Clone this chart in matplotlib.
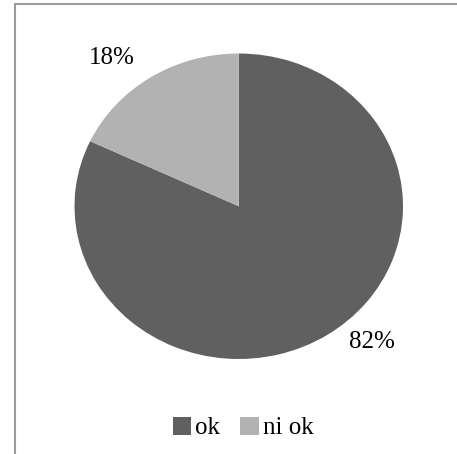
import matplotlib.pyplot as plt
from matplotlib.patches import Rectangle

# data
categories = ['ok', 'ni ok']
values = [82, 18]
colors = ['#606060', '#b2b2b2']

plt.rcParams['font.family'] = ['Liberation Serif', 'DejaVu Serif']

fig = plt.figure(figsize=(4.57, 4.54), dpi=100)

# outer frame (chart area border)
fig.patches.append(Rectangle((14.5 / 457, -0.1), 1.2, 1.1 - 4.5 / 454 + 0.0,
                             transform=fig.transFigure, fill=False,
                             edgecolor='#9a9a9a', linewidth=1.5))

ax = fig.add_axes([74.5 / 457, 1 - 359 / 454, 328.5 / 457, 305.5 / 454])
wedges, _ = ax.pie(values, colors=colors, startangle=90, counterclock=False,
                   radius=1.0, wedgeprops=dict(linewidth=0))
ax.set_aspect('auto')
ax.set_xlim(-1, 1)
ax.set_ylim(-1, 1)
ax.axis('off')

# percentage labels
label_pos = [(0.81, -0.89), (-0.77, 0.97)]
for v, (x, y) in zip(values, label_pos):
    ax.text(x, y, f'{v}%', ha='center', va='center', fontsize=18, color='black')

fig.legend(wedges, categories, loc='center', bbox_to_anchor=(243 / 457, 1 - 428 / 454),
           ncol=2, frameon=False, fontsize=18, handlelength=0.75, handleheight=0.75,
           handletextpad=0.15, columnspacing=0.8)

fig.savefig('out.png', dpi=100)
